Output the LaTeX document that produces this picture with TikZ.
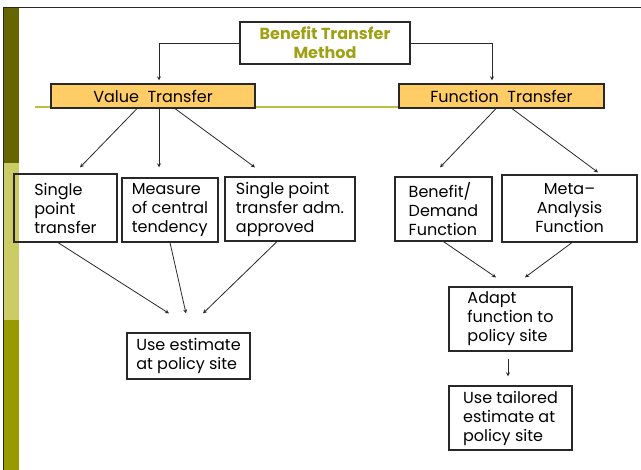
\documentclass[tikz,border=0pt]{standalone}
\usepackage{fontspec}
\setmainfont{Poppins}
\usepackage{tikz}
\usetikzlibrary{calc}

\definecolor{barA}{RGB}{102,102,0}
\definecolor{barB}{RGB}{204,204,102}
\definecolor{barC}{RGB}{153,153,0}
\definecolor{headtext}{RGB}{160,160,20}
\definecolor{orangebox}{RGB}{255,204,102}
\definecolor{rule}{RGB}{190,190,70}
\definecolor{edge}{RGB}{40,40,40}

\tikzset{
  >=stealth,
  box/.style={draw=edge, line width=1.2pt, align=left, inner sep=3pt,
    font=\fontsize{16}{19}\selectfont},
  head/.style={draw=edge, line width=1.2pt, fill=orangebox, inner sep=1pt,
    font=\fontsize{16}{18}\selectfont},
  link/.style={->, line width=0.8pt, edge}
}

\begin{document}
\begin{tikzpicture}[x=1pt, y=-1pt]
    \useasboundingbox (0,0) rectangle (641,470);

    % Slide frame: left colour bar and top rule
    \foreach \top/\bot/\col in {8/163/barA, 163/320/barB, 320/470/barC} {
      \fill[\col] (3,\top) rectangle (19,\bot);
    }
    \draw[edge, line width=1pt] (3.5,470) -- (3.5,8) -- (641,8);
    \draw[rule, line width=1.6pt] (35,107) -- (400,107);

    % Top level
    \node[box, align=center, minimum width=170pt, minimum height=42pt,
          text=headtext, font=\bfseries\fontsize{16}{19}\selectfont]
          (method) at (325,43) {Benefit Transfer\\Method};
    \node[head, minimum width=204pt, minimum height=24pt] (value) at (153,96) {Value~~Transfer};
    \node[head, minimum width=205pt, minimum height=24pt] (function) at (501.5,96) {Function~~Transfer};

    % Value transfer branch
    \node[box, minimum width=103pt, minimum height=68pt] (single) at (65.5,208) {Single\\point\\transfer};
    \node[box, minimum width=96pt, minimum height=64pt] (central) at (170,210) {Measure\\of central\\tendency};
    \node[box, minimum width=130pt, minimum height=64pt] (approved) at (290,209) {Single point\\transfer adm.\\approved};
    \node[box, minimum width=123pt, minimum height=46pt] (estimate) at (188.5,356) {Use estimate\\at policy site};

    % Function transfer branch
    \node[box, minimum width=97pt, minimum height=64pt] (demand) at (443.5,209) {Benefit/\\Demand\\Function};
    \node[box, align=center, minimum width=135pt, minimum height=67pt] (meta) at (569.5,208.5) {Meta--\\Analysis\\Function};
    \node[box, minimum width=123pt, minimum height=64pt] (adapt) at (510.5,319) {Adapt\\function to\\policy site};
    \node[box, minimum width=123pt, minimum height=64pt] (tailored) at (510.5,418) {Use tailored\\estimate at\\policy site};

    % Connectors
    \draw[link] (method.west) -| ([xshift=6pt,yshift=3pt]value.north);
    \draw[link] (method.east) -| ([xshift=-9.5pt,yshift=3pt]function.north);

    \draw[link] ([xshift=-16pt]value.south) -- ([xshift=14.5pt,yshift=6pt]single.north);
    \draw[link] ([xshift=6pt]value.south) -- ([xshift=-11pt,yshift=10pt]central.north);
    \draw[link] ([xshift=22pt]value.south) -- ([xshift=-35pt,yshift=9pt]approved.north);

    \draw[link] ([xshift=-7.5pt]single.south) -- ([xshift=-19.5pt,yshift=19pt]estimate.north);
    \draw[link] (central.south) -- ([xshift=-2.5pt,yshift=19pt]estimate.north);
    \draw[link] ([xshift=-13pt]approved.south) -- ([xshift=14.5pt,yshift=19pt]estimate.north);

    \draw[link] ([xshift=-5.5pt]function.south) -- ([xshift=-3.5pt,yshift=9pt]demand.north);
    \draw[link] ([xshift=10.5pt]function.south) -- ([xshift=28.5pt,yshift=2pt]meta.north);

    \draw[link] (demand.south) -- ([xshift=-14.5pt,yshift=9pt]adapt.north);
    \draw[link] ([xshift=2.5pt]meta.south) -- ([xshift=14.5pt,yshift=9pt]adapt.north);
    \draw[link] ([xshift=-2.5pt,yshift=-7pt]adapt.south) -- ([xshift=-2.5pt,yshift=9pt]tailored.north);

  \end{tikzpicture}
\end{document}
